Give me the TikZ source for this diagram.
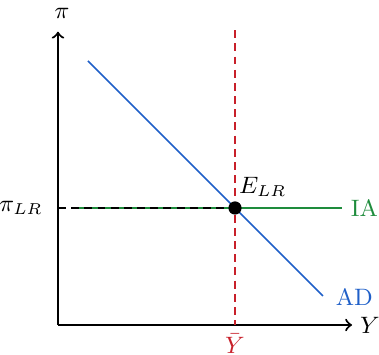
\documentclass[tikz,border=0pt]{standalone}
\usepackage{amsmath}
\usepackage{amssymb}
\usepackage{xcolor}
\usepackage{tikz}
\definecolor{adblue}{HTML}{1F5FC8}
\definecolor{iagreen}{HTML}{1E8C3C}
\definecolor{ybarred}{HTML}{C8202A}
\tikzset{
  axisline/.style={->, thick},
  curveline/.style={semithick},
  guide/.style={dashed, dash pattern=on 3pt off 2pt, semithick}
}

\begin{document}
\begin{tikzpicture}[>=to, scale=1.0, font=\small]
  \useasboundingbox (-0.773,-0.4) rectangle (4.28,4.333);
  % axes
  \coordinate (O) at (0,0);
  \node (xlab) at (4.16,0) {$Y$};
  \node (ylab) at (0.053,4.15) {$\pi$};
  \coordinate (xend) at (3.92,0);
  \coordinate (yend) at (0,3.91);
  \draw[axisline] (O) -- (xend);
  \draw[axisline] (O) -- (yend);
  % long run output
  \coordinate (ytop) at (2.36,3.93);
  \coordinate (ybot) at (2.36,0);
  \draw[guide, ybarred] (ytop) -- (ybot);
  \node[ybarred, inner sep=1pt] (ybar) at (2.36,-0.25) {$\bar{Y}$};
  % IA line
  \coordinate (iastart) at (0.227,1.56);
  \coordinate (iaend) at (3.787,1.56);
  \draw[curveline, iagreen] (iastart) -- (iaend);
  \node[iagreen, right] (ialab) at (3.78,1.56) {IA};
  % AD line
  \coordinate (adstart) at (0.4,3.52);
  \coordinate (adend) at (3.533,0.387);
  \draw[curveline, adblue] (adstart) -- (adend);
  \node[adblue, right] (adlab) at (3.58,0.373) {AD};
  % equilibrium
  \coordinate (piax) at (0,1.56);
  \node[circle, fill=black, inner sep=0pt, minimum size=5pt] (E) at (2.36,1.56) {};
  \draw[guide, black] (piax) -- (E);
  \node[left] (pilab) at (-0.08,1.56) {$\pi_{LR}$};
  \node (elab) at (2.73,1.84) {$E_{LR}$};
\end{tikzpicture}
\end{document}
